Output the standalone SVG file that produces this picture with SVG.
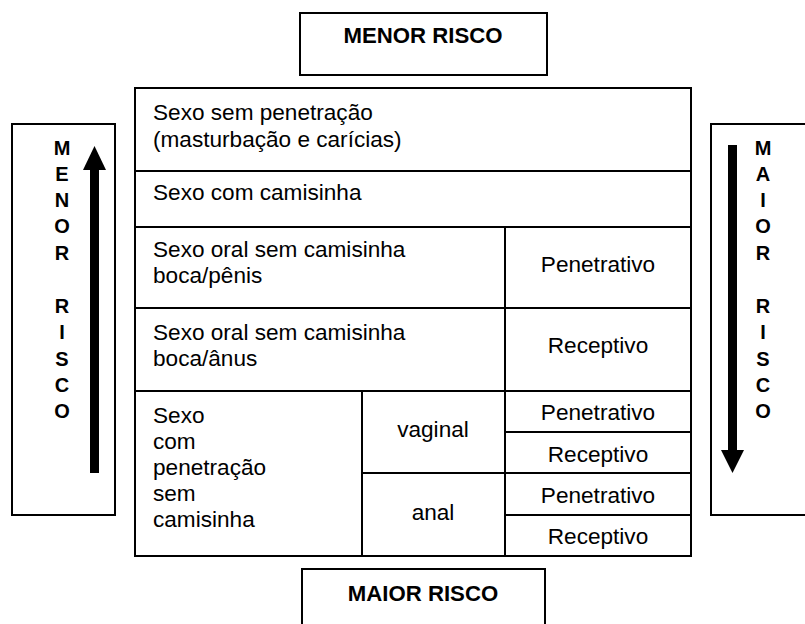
<svg xmlns="http://www.w3.org/2000/svg" width="805" height="624" viewBox="0 0 805 624">
<style>
.box{fill:#fff;stroke:#000;stroke-width:2}
.ln{stroke:#000;stroke-width:2;fill:none}
.t{font-family:"Liberation Sans",Arial,sans-serif;font-size:22.6px;fill:#000}
.c{text-anchor:middle}
.b{font-family:"Liberation Sans",Arial,sans-serif;font-size:22.2px;font-weight:bold;fill:#000;text-anchor:middle}
.v{font-family:"Liberation Sans",Arial,sans-serif;font-size:20px;font-weight:bold;fill:#000;text-anchor:middle}
</style>
<rect width="805" height="624" fill="#fff"/>
<g id="menor-risco-top">
<rect class="box" x="300" y="13" width="247" height="62"/>
<text class="b" x="423" y="43">MENOR RISCO</text>
</g>
<g id="maior-risco-bottom">
<rect class="box" x="302" y="569" width="243" height="70"/>
<text class="b" x="423" y="601">MAIOR RISCO</text>
</g>
<g id="left-scale">
<rect class="box" x="12" y="124" width="103" height="391"/>
<text class="v" x="62"><tspan x="62" y="155">M</tspan><tspan x="62" y="181">E</tspan><tspan x="62" y="207">N</tspan><tspan x="62" y="233">O</tspan><tspan x="62" y="260">R</tspan><tspan x="62" y="313">R</tspan><tspan x="62" y="339">I</tspan><tspan x="62" y="366">S</tspan><tspan x="62" y="392">C</tspan><tspan x="62" y="418">O</tspan></text>
<rect x="90" y="168" width="9" height="305" fill="#000"/>
<polygon points="94.5,146 83,170 106,170" fill="#000"/>
</g>
<g id="right-scale">
<rect class="box" x="711" y="124" width="100" height="391"/>
<text class="v" x="763"><tspan x="763" y="155">M</tspan><tspan x="763" y="181">A</tspan><tspan x="763" y="207">I</tspan><tspan x="763" y="233">O</tspan><tspan x="763" y="260">R</tspan><tspan x="763" y="313">R</tspan><tspan x="763" y="339">I</tspan><tspan x="763" y="366">S</tspan><tspan x="763" y="392">C</tspan><tspan x="763" y="418">O</tspan></text>
<rect x="728" y="145" width="9" height="307" fill="#000"/>
<polygon points="732.5,473 721,450 744,450" fill="#000"/>
</g>
<g id="table">
<rect class="box" x="135" y="88" width="556" height="468"/>
<g id="connectors">
<line class="ln" x1="135" y1="171" x2="691" y2="171"/>
<line class="ln" x1="135" y1="227" x2="691" y2="227"/>
<line class="ln" x1="135" y1="308" x2="691" y2="308"/>
<line class="ln" x1="135" y1="391" x2="691" y2="391"/>
<line class="ln" x1="362" y1="473" x2="691" y2="473"/>
<line class="ln" x1="505" y1="432" x2="691" y2="432"/>
<line class="ln" x1="505" y1="515" x2="691" y2="515"/>
<line class="ln" x1="505" y1="227" x2="505" y2="556"/>
<line class="ln" x1="362" y1="391" x2="362" y2="556"/>
</g>
<g id="row-sem-penetracao">
<text class="t" x="153" y="120">Sexo sem penetração</text>
<text class="t" x="153" y="147">(masturbação e carícias)</text>
</g>
<g id="row-com-camisinha">
<text class="t" x="153" y="200">Sexo com camisinha</text>
</g>
<g id="row-oral-penis">
<text class="t" x="153" y="257">Sexo oral sem camisinha</text>
<text class="t" x="153" y="283">boca/pênis</text>
<text class="t c" x="598" y="272">Penetrativo</text>
</g>
<g id="row-oral-anus">
<text class="t" x="153" y="340">Sexo oral sem camisinha</text>
<text class="t" x="153" y="366">boca/ânus</text>
<text class="t c" x="598" y="353">Receptivo</text>
</g>
<g id="row-penetracao">
<text class="t" x="153" y="423">Sexo</text>
<text class="t" x="153" y="449">com</text>
<text class="t" x="153" y="475">penetração</text>
<text class="t" x="153" y="501">sem</text>
<text class="t" x="153" y="527">camisinha</text>
<text class="t c" x="433" y="437">vaginal</text>
<text class="t c" x="433" y="520">anal</text>
<text class="t c" x="598" y="420">Penetrativo</text>
<text class="t c" x="598" y="462">Receptivo</text>
<text class="t c" x="598" y="503">Penetrativo</text>
<text class="t c" x="598" y="544">Receptivo</text>
</g>
</g>
</svg>
